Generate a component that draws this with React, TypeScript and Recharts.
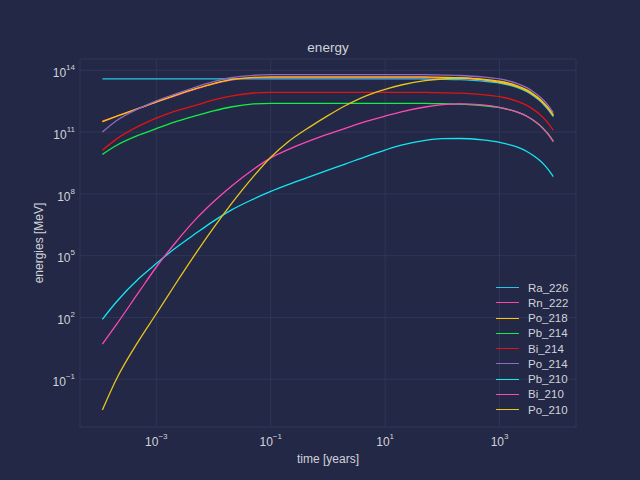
import React from 'react';
import { LineChart, Line, XAxis, YAxis, CartesianGrid, Legend } from 'recharts';

const BG = '#222845';
const GRID = '#2f365a';
const TEXT = '#d2d3da';
const FONT = '"Liberation Sans", Arial, sans-serif';

// time in years
const years = [0.000114, 0.0002, 0.0005, 0.001, 0.002, 0.005, 0.01, 0.02, 0.05, 0.1, 0.2, 0.5, 1, 2, 5, 10, 20, 50, 100, 200, 500, 1000, 2000, 3000, 4000, 5000, 6000, 7000, 8700];

const ra226 = [13.59, 13.59, 13.59, 13.59, 13.59, 13.59, 13.59, 13.59, 13.59, 13.59, 13.59, 13.59, 13.59, 13.59, 13.59, 13.59, 13.59, 13.58, 13.57, 13.55, 13.48, 13.38, 13.17, 12.96, 12.74, 12.53, 12.32, 12.11, 11.75];
const rn222 = [11.53, 11.77, 12.16, 12.46, 12.74, 13.1, 13.34, 13.52, 13.63, 13.65, 13.65, 13.65, 13.65, 13.65, 13.65, 13.65, 13.65, 13.65, 13.63, 13.61, 13.54, 13.44, 13.23, 13.02, 12.8, 12.59, 12.38, 12.17, 11.81];
const po218 = [11.5, 11.76, 12.16, 12.47, 12.76, 13.12, 13.36, 13.55, 13.66, 13.68, 13.68, 13.68, 13.68, 13.68, 13.68, 13.68, 13.68, 13.68, 13.66, 13.64, 13.57, 13.47, 13.26, 13.05, 12.83, 12.62, 12.41, 12.2, 11.84];
const pb214 = [9.92, 10.35, 10.86, 11.17, 11.47, 11.8, 12.03, 12.22, 12.37, 12.4, 12.4, 12.4, 12.4, 12.4, 12.4, 12.4, 12.4, 12.4, 12.38, 12.36, 12.29, 12.19, 11.98, 11.77, 11.55, 11.34, 11.13, 10.92, 10.56];
const bi214 = [10.12, 10.66, 11.3, 11.68, 12.0, 12.31, 12.56, 12.75, 12.9, 12.93, 12.93, 12.93, 12.93, 12.93, 12.93, 12.93, 12.93, 12.93, 12.91, 12.89, 12.82, 12.72, 12.51, 12.3, 12.08, 11.87, 11.66, 11.45, 11.09];
const po214 = [11.0, 11.55, 12.15, 12.52, 12.82, 13.2, 13.45, 13.64, 13.76, 13.79, 13.79, 13.79, 13.79, 13.79, 13.79, 13.79, 13.79, 13.79, 13.77, 13.75, 13.68, 13.58, 13.37, 13.16, 12.94, 12.73, 12.52, 12.31, 11.95];
const pb210 = [1.91, 2.75, 3.9, 4.62, 5.3, 6.1, 6.68, 7.2, 7.75, 8.12, 8.45, 8.85, 9.15, 9.45, 9.85, 10.13, 10.38, 10.6, 10.68, 10.69, 10.62, 10.5, 10.28, 10.06, 9.84, 9.63, 9.42, 9.2, 8.84];
const bi210 = [0.71, 1.65, 3.25, 4.45, 5.52, 6.8, 7.62, 8.35, 9.2, 9.75, 10.15, 10.6, 10.9, 11.18, 11.54, 11.78, 12.0, 12.22, 12.33, 12.37, 12.32, 12.2, 11.98, 11.77, 11.55, 11.34, 11.12, 10.91, 10.53];
const po210 = [-2.49, -1.0, 0.9, 2.18, 3.48, 5.15, 6.35, 7.48, 8.85, 9.78, 10.52, 11.28, 11.8, 12.28, 12.8, 13.08, 13.3, 13.5, 13.58, 13.62, 13.55, 13.42, 13.21, 13.0, 12.78, 12.57, 12.36, 12.15, 11.79];

const xTicks = [1e-3, 1e-1, 1e1, 1e3];
const yTicks = [1e-1, 1e2, 1e5, 1e8, 1e11, 1e14];

const series = [
  { key: 'Ra_226', values: ra226, color: '#27c6e6' },
  { key: 'Rn_222', values: rn222, color: '#ff44aa' },
  { key: 'Po_218', values: po218, color: '#ffc400' },
  { key: 'Pb_214', values: pb214, color: '#11ee44' },
  { key: 'Bi_214', values: bi214, color: '#e01414' },
  { key: 'Po_214', values: po214, color: '#9169c0' },
  { key: 'Pb_210', values: pb210, color: '#14e6f4' },
  { key: 'Bi_210', values: bi210, color: '#ff48b4' },
  { key: 'Po_210', values: po210, color: '#e8c51a' },
];

const data = years.map((t, i) => {
  const row: Record<string, number> = { t };
  series.forEach(s => { row[s.key] = Math.pow(10, s.values[i]); });
  return row;
});

const expOf = (v: number) => {
  const e = Math.round(Math.log10(v));
  return e < 0 ? '\u2212' + Math.abs(e) : String(e);
};

const XTick = (props: any) => {
  const { x, y, payload } = props;
  return (
    <text x={x} y={y + 19} textAnchor="middle" fill={TEXT} fontSize={12} fontFamily={FONT}>
      10<tspan dy={-7} fontSize={8}>{expOf(payload.value)}</tspan>
    </text>
  );
};

const YTick = (props: any) => {
  const { x, y, payload } = props;
  return (
    <text x={x} y={y + 6.7} textAnchor="end" fill={TEXT} fontSize={12} fontFamily={FONT}>
      10<tspan dy={-7} fontSize={8}>{expOf(payload.value)}</tspan>
    </text>
  );
};

const renderLegend = () => (
  <div style={{ fontSize: 11.5, color: TEXT, fontFamily: FONT }}>
    {series.map(s => (
      <div key={s.key} style={{ display: 'flex', alignItems: 'center', height: 15.25 }}>
        <span style={{ display: 'inline-block', width: 23, borderTop: `1.5px solid ${s.color}`, marginRight: 9 }} />
        <span>{s.key}</span>
      </div>
    ))}
  </div>
);

export default function App() {
  return (
    <div style={{ position: 'fixed', left: 0, top: 0, width: 640, height: 480, background: BG }}>
      <div style={{ position: 'absolute', left: 80, width: 496, top: 41, lineHeight: '14px', fontSize: 13.5, textAlign: 'center', color: TEXT, fontFamily: FONT }}>
        energy
      </div>
      <LineChart width={640} height={480} data={data} margin={{ top: 59, right: 64, bottom: 0, left: 0 }}>
        <CartesianGrid stroke={GRID} strokeWidth={1} />
        <XAxis
          dataKey="t"
          type="number"
          scale="log"
          domain={[4.63e-5, 2.17e4]}
          allowDataOverflow
          ticks={xTicks}
          interval={0}
          tick={<XTick />}
          tickLine={false}
          axisLine={false}
          tickSize={0}
          tickMargin={0}
          height={53}
          label={{ value: 'time [years]', position: 'insideBottom', offset: 17.5, fill: TEXT, fontSize: 12, fontFamily: FONT }}
        />
        <YAxis
          type="number"
          scale="log"
          domain={[4.8e-4, 3.55e14]}
          allowDataOverflow
          ticks={yTicks}
          interval={0}
          tick={<YTick />}
          tickLine={false}
          axisLine={false}
          tickSize={0}
          tickMargin={5}
          width={80}
          label={{ value: 'energies [MeV]', angle: -90, position: 'center', dx: -1, fill: TEXT, fontSize: 12, fontFamily: FONT }}
        />
        <Legend
          layout="horizontal"
          verticalAlign="middle"
          align="center"
          content={renderLegend}
          wrapperStyle={{ left: 496, top: 280, width: 110, height: 'auto' }}
        />
        {series.map(s => (
          <Line
            key={s.key}
            dataKey={s.key}
            name={s.key}
            type="monotone"
            stroke={s.color}
            strokeWidth={1.3}
            dot={false}
            activeDot={false}
            isAnimationActive={false}
          />
        ))}
      </LineChart>
    </div>
  );
}
